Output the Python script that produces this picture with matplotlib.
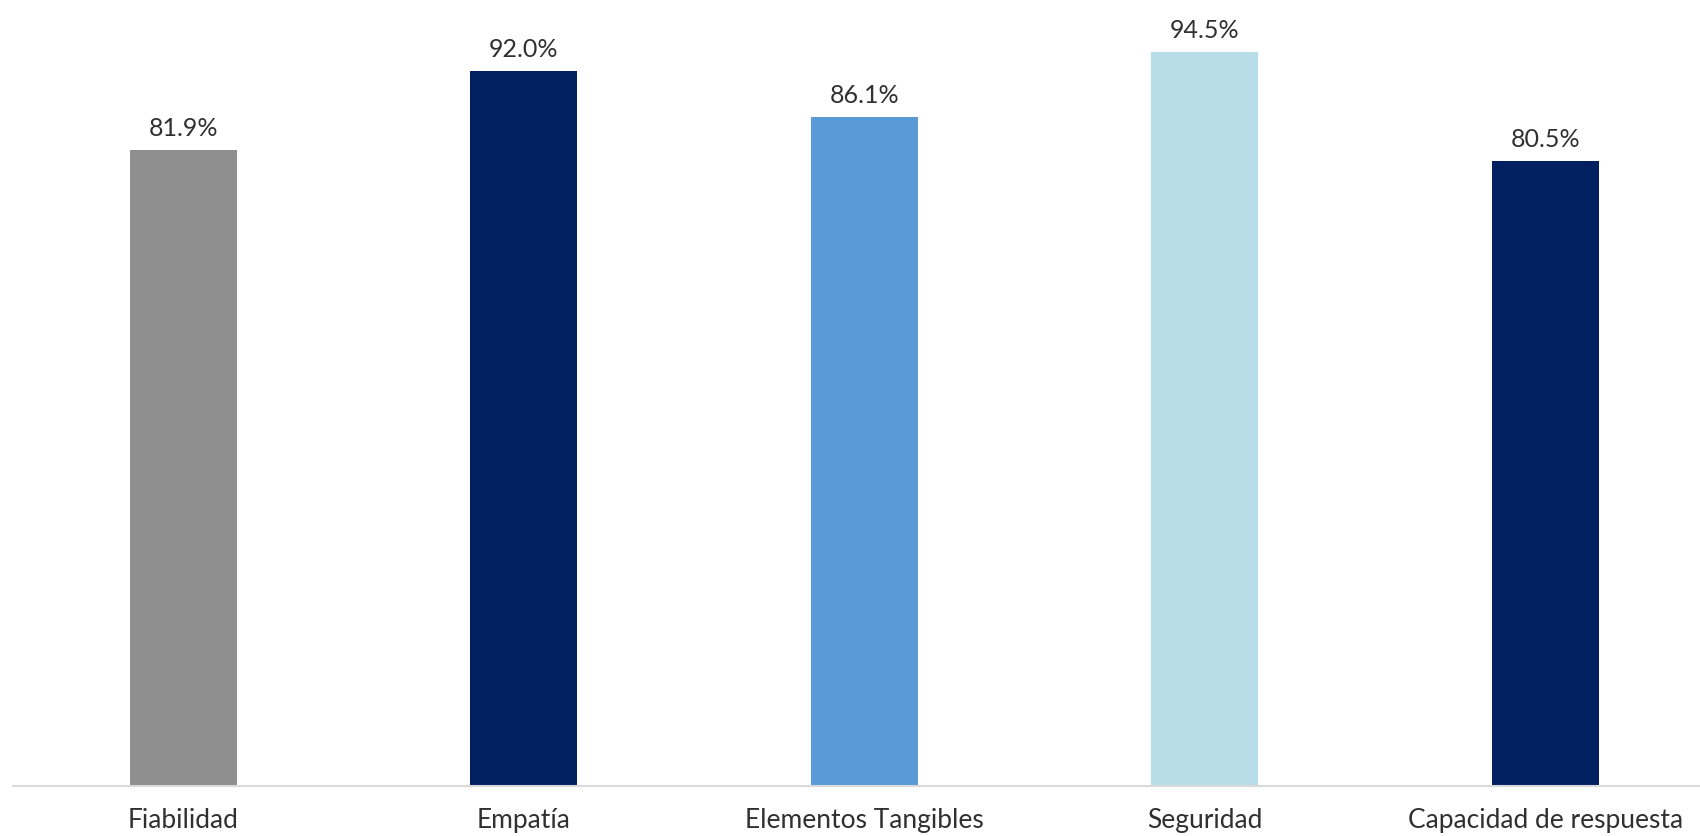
#!/usr/bin/env python3
"""Bar chart: dimensiones de calidad de servicio (porcentaje)."""

import matplotlib
matplotlib.use("Agg")
import matplotlib.pyplot as plt

categories = ["Fiabilidad", "Empatía", "Elementos Tangibles", "Seguridad", "Capacidad de respuesta"]
values = [81.9, 92.0, 86.1, 94.5, 80.5]
bar_colors = ["#8F8F8F", "#002060", "#5B9BD5", "#B7DEE8", "#002060"]

plt.rcParams["font.family"] = ["Lato", "DejaVu Sans"]

fig = plt.figure(figsize=(17, 8.36), dpi=100)
ax = fig.add_axes([13 / 1700, 0.06, 1 - 13 / 1700, 0.94])

x = list(range(len(categories)))
bars = ax.bar(x, values, width=0.314, color=bar_colors)

for b, v in zip(bars, values):
    ax.text(b.get_x() + b.get_width() / 2, v + 1.3, f"{v:.1f}%", ha="center", va="bottom",
            fontsize=18, color="#303030")

ax.set_xlim(-0.5, 4.455)
ax.set_ylim(0, 101.2)
ax.set_xticks(x)
ax.set_xticklabels(categories, fontsize=19, color="#303030")
ax.tick_params(axis="x", length=0, pad=16)
ax.set_yticks([])
for s in ["top", "right", "left"]:
    ax.spines[s].set_visible(False)
ax.spines["bottom"].set_color("#D9D9D9")
ax.spines["bottom"].set_linewidth(1.5)

fig.savefig("out.png", dpi=100, facecolor="white")
